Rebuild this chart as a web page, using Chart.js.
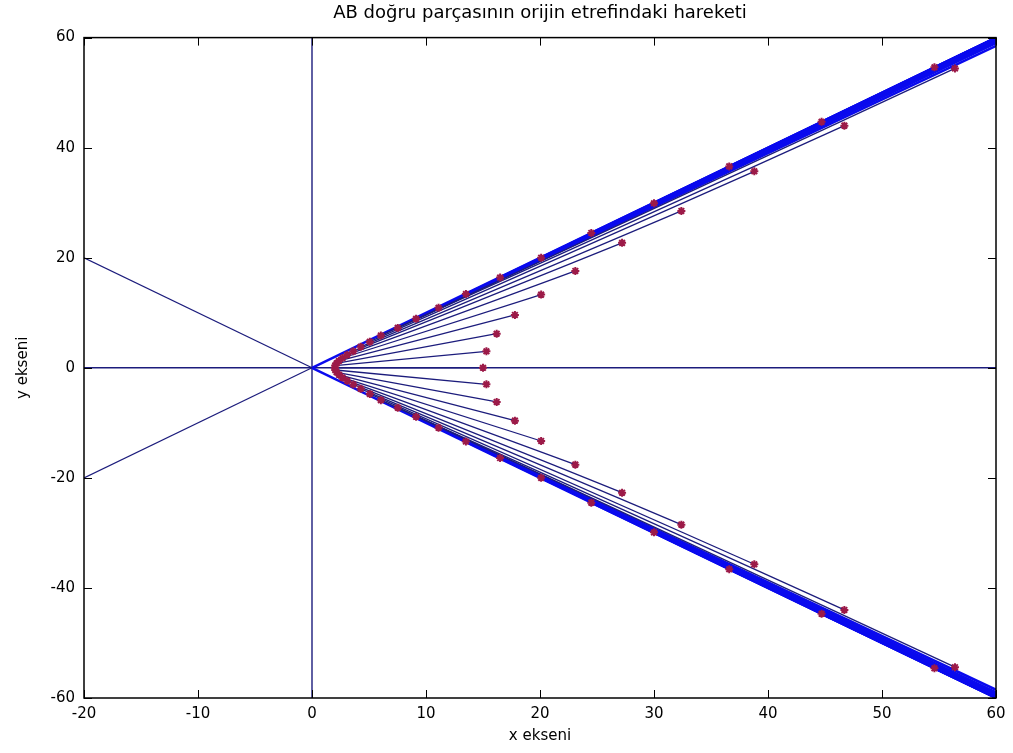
<!DOCTYPE html>
<html>
<head>
<meta charset="utf-8">
<script src="https://cdn.jsdelivr.net/npm/chart.js@4"></script>
<style>
  body { margin: 0; background: #fff; }
  #wrap { width: 1013px; height: 753px; }
</style>
</head>
<body>
<div id="wrap"><canvas id="abChart" width="1013" height="753"></canvas></div>
<script>
// AB segment – point A (inner end), upper half
const aX = [2.0, 2.04, 2.16, 2.37, 2.67, 3.09, 3.62, 4.27, 5.07, 6.04, 7.52,
            9.13, 11.1, 13.5, 16.5, 20.1, 24.5, 30.0, 36.6, 44.7, 54.6];
const aY = [0, 0.4, 0.82, 1.27, 1.78, 2.35, 3.02, 3.82, 4.74, 5.88, 7.25,
            8.9, 10.9, 13.4, 16.4, 20.0, 24.5, 29.9, 36.6, 44.7, 54.6];

// point B (outer end), the ones that are still inside the axes
const bX = [15.0, 15.3, 16.2, 17.8, 20.1, 23.1, 27.2, 32.4, 38.8, 46.7, 56.4];
const bY = [0, 3.0, 6.2, 9.6, 13.3, 17.6, 22.7, 28.5, 35.7, 44.0, 54.4];

// segments whose B is off the plot leave through the right edge (x = 60)
const edgeX = 60;
const edgeY = [58.5, 59.0, 59.3, 59.5, 59.7, 59.8, 59.86, 59.9, 59.94, 59.96];

// reference lines
const axisLines = [
  [{x: -20, y: 0}, {x: 60, y: 0}],
  [{x: 0, y: -60}, {x: 0, y: 60}]
];
const diagonals = [
  [{x: -20, y: 20}, {x: 0, y: 0}, {x: 60, y: -60}],
  [{x: -20, y: -20}, {x: 0, y: 0}, {x: 60, y: 60}]
];

const xTicks = [-20, -10, 0, 10, 20, 30, 40, 50, 60];
const yTicks = [-60, -40, -20, 0, 20, 40, 60];

const navy = "#1c1c7c";
const blue = "#0a0aee";
const red = "#9c1a48";

// build datasets
const markerPts = [];
aX.forEach((x, i) => {
  markerPts.push({x: x, y: aY[i]});
  if (i > 0) markerPts.push({x: x, y: -aY[i]});
});
bX.forEach((x, i) => {
  markerPts.push({x: x, y: bY[i]});
  if (i > 0) markerPts.push({x: x, y: -bY[i]});
});

const datasets = [{
  data: markerPts,
  pointStyle: "star",
  pointRadius: 4,
  borderColor: red,
  backgroundColor: red,
  pointBorderWidth: 2,
  showLine: false
}];

function lineSet(pts, color, width) {
  return { data: pts, showLine: true, borderColor: color, borderWidth: width, pointRadius: 0, fill: false };
}

aX.forEach((x, i) => {
  const outer = i < bX.length;
  const ex = outer ? bX[i] : edgeX;
  const ey = outer ? bY[i] : edgeY[i - bX.length];
  const col = outer ? navy : blue;
  const w = outer ? 1.3 : 2.6;
  datasets.push(lineSet([{x: x, y: aY[i]}, {x: ex, y: ey}], col, w));
  if (i > 0) datasets.push(lineSet([{x: x, y: -aY[i]}, {x: ex, y: -ey}], col, w));
});

// diagonals: thin on the left, part of the dense blue band on the right
diagonals.forEach(d => {
  const ds = lineSet(d, navy, 1.2);
  ds.segment = {
    borderColor: c => c.p0.parsed.x >= 0 ? blue : navy,
    borderWidth: c => c.p0.parsed.x >= 0 ? 2.4 : 1.2
  };
  datasets.push(ds);
});
axisLines.forEach(d => datasets.push(lineSet(d, navy, 1.4)));

// box and inward tick marks, MATLAB style
const boxTicks = {
  id: "boxTicks",
  afterDraw(chart) {
    const {ctx, chartArea: a, scales} = chart;
    ctx.save();
    ctx.strokeStyle = "#000";
    ctx.lineWidth = 1.5;
    ctx.strokeRect(a.left, a.top, a.right - a.left, a.bottom - a.top);
    ctx.lineWidth = 1;
    ctx.beginPath();
    xTicks.forEach(v => {
      const px = Math.round(scales.x.getPixelForValue(v)) + 0.5;
      ctx.moveTo(px, a.bottom); ctx.lineTo(px, a.bottom - 8);
      ctx.moveTo(px, a.top); ctx.lineTo(px, a.top + 8);
    });
    yTicks.forEach(v => {
      const py = Math.round(scales.y.getPixelForValue(v)) + 0.5;
      ctx.moveTo(a.left, py); ctx.lineTo(a.left + 8, py);
      ctx.moveTo(a.right, py); ctx.lineTo(a.right - 8, py);
    });
    ctx.stroke();
    ctx.restore();
  }
};

const tickFont = { family: "DejaVu Sans", size: 15 };

new Chart(document.getElementById("abChart"), {
  type: "scatter",
  data: { datasets: datasets },
  options: {
    responsive: false,
    animation: false,
    events: [],
    layout: { padding: { right: 17, left: 0, bottom: 0 } },
    plugins: {
      legend: { display: false },
      tooltip: { enabled: false },
      title: {
        display: true,
        text: "AB doğru parçasının orijin etrefindaki hareketi",
        fullSize: false,
        color: "#000",
        font: { family: "DejaVu Sans", size: 18, weight: "normal" },
        padding: { top: 3, bottom: 13 }
      }
    },
    scales: {
      x: {
        type: "linear",
        min: -20, max: 60,
        afterFit: s => { s.height = 55; },
        afterBuildTicks: s => { s.ticks = xTicks.map(v => ({value: v})); },
        grid: { display: false, drawTicks: false },
        border: { display: false },
        ticks: { color: "#000", font: tickFont, padding: 7 },
        title: { display: true, text: "x ekseni", color: "#000", font: tickFont, padding: { bottom: 8 } }
      },
      y: {
        type: "linear",
        min: -60, max: 60,
        afterFit: s => { s.width = 84; },
        afterBuildTicks: s => { s.ticks = yTicks.map(v => ({value: v})); },
        grid: { display: false, drawTicks: false },
        border: { display: false },
        ticks: { color: "#000", font: tickFont, padding: 9 },
        title: { display: true, text: "y ekseni", color: "#000", font: tickFont, padding: { top: 14 } }
      }
    }
  },
  plugins: [boxTicks]
});
</script>
</body>
</html>
